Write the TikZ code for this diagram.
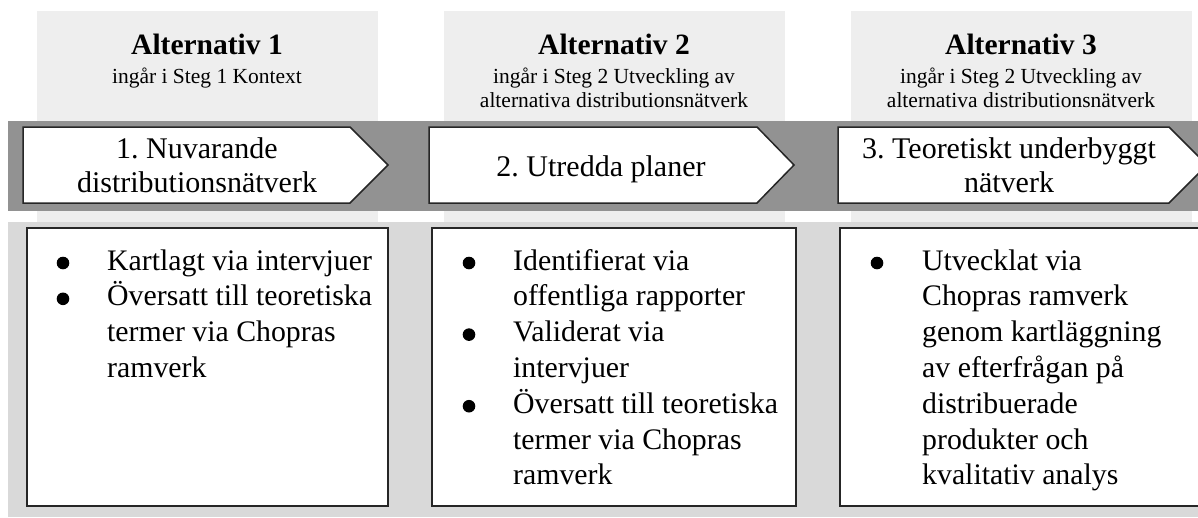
\documentclass[tikz,border=0pt]{standalone}
\usepackage{fontspec}
\setmainfont{Liberation Serif}
\frenchspacing
\definecolor{hdrfill}{HTML}{EEEEEE}
\definecolor{bandfill}{HTML}{929292}
\definecolor{lowfill}{HTML}{D9D9D9}
\definecolor{edge}{HTML}{262626}
\begin{document}
\begin{tikzpicture}[x=1pt,y=-1pt,
  hdrtitle/.style={inner sep=0pt, font=\fontsize{29.5}{34}\selectfont\bfseries},
  hdrsub/.style={inner sep=0pt, align=center, font=\fontsize{21.5}{24}\selectfont},
  chevtext/.style={inner sep=0pt, align=center, font=\fontsize{30}{34}\selectfont},
  itemtext/.style={inner sep=0pt, align=left, font=\fontsize{29.8}{35.8}\selectfont},
  chevron/.style={fill=white, draw=edge, line width=1.5pt, line join=miter},
  whitebox/.style={fill=white, draw=edge, line width=1.5pt},
  dot/.style={fill=black}]
\useasboundingbox (0,0) rectangle (1198,517);
\clip (0,0) rectangle (1198,517);

% light header columns
\fill[hdrfill] (37,11) rectangle (378,222);
\fill[hdrfill] (444,11) rectangle (785,222);
\fill[hdrfill] (851,11) rectangle (1192,222);

% dark band carrying the process chevrons
\fill[bandfill] (8,121) rectangle (1198,211);

% lower band with the description boxes
\fill[lowfill] (8,222) rectangle (1198,517);

% description boxes
\draw[whitebox] (27,228) rectangle (388,506);
\draw[whitebox] (432,228) rectangle (796,506);
\draw[whitebox] (840,228) rectangle (1215,506);

% chevrons
\draw[chevron] (23,127) -- (350,127) -- (388,165) -- (350,203) -- (23,203) -- cycle;
\draw[chevron] (429,127) -- (757,127) -- (794,165) -- (757,203) -- (429,203) -- cycle;
\draw[chevron] (838,127) -- (1169,127) -- (1207,165) -- (1169,203) -- (838,203) -- cycle;

% column headings (multi-line nodes are placed by the baseline of their last line)
\node[hdrtitle, anchor=base] (h1) at (207,54) {Alternativ 1};
\node[hdrsub, anchor=base] (s1) at (207,83) {ingår i Steg 1 Kontext};
\node[hdrtitle, anchor=base] (h2) at (614,54) {Alternativ 2};
\node[hdrsub, anchor=base] (s2) at (614,107) {ingår i Steg 2 Utveckling av\\alternativa distributionsnätverk};
\node[hdrtitle, anchor=base] (h3) at (1021,54) {Alternativ 3};
\node[hdrsub, anchor=base] (s3) at (1021,107) {ingår i Steg 2 Utveckling av\\alternativa distributionsnätverk};

% chevron labels
\node[chevtext, anchor=base] (c1) at (197,192) {1. Nuvarande\\distributionsnätverk};
\node[chevtext, anchor=base] (c2) at (601,176) {2. Utredda planer};
\node[chevtext, anchor=base] (c3) at (1009,192) {3. Teoretiskt underbyggt\\nätverk};

% box 1
\node[itemtext, anchor=base west] (a1) at (107,270) {Kartlagt via intervjuer};
\node[itemtext, anchor=base west] (a2) at (107,377.4) {Översatt till teoretiska\\termer via Chopras\\ramverk};
\fill[dot] (63,263) circle (6.3);
\fill[dot] (63,298.8) circle (6.3);

% box 2
\node[itemtext, anchor=base west] (b1) at (513,305.8) {Identifierat via\\offentliga rapporter};
\node[itemtext, anchor=base west] (b2) at (513,377.4) {Validerat via\\intervjuer};
\node[itemtext, anchor=base west] (b3) at (513,484.8) {Översatt till teoretiska\\termer via Chopras\\ramverk};
\fill[dot] (469,263) circle (6.3);
\fill[dot] (469,334.6) circle (6.3);
\fill[dot] (469,406.2) circle (6.3);

% box 3
\node[itemtext, anchor=base west] (d1) at (922,484.8) {Utvecklat via\\Chopras ramverk\\genom kartläggning\\av efterfrågan på\\distribuerade\\produkter och\\kvalitativ analys};
\fill[dot] (877,263) circle (6.3);
\end{tikzpicture}
\end{document}
